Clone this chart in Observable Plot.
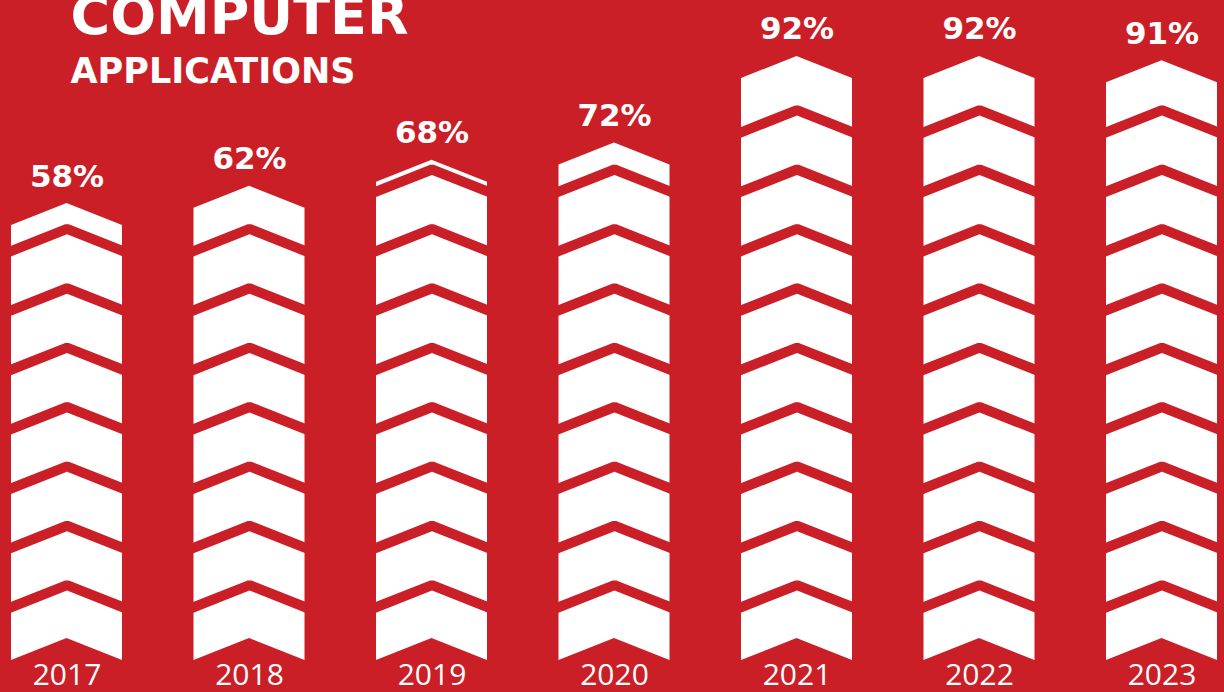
<!DOCTYPE html>
<html><head><meta charset="utf-8">
<script src="https://cdn.jsdelivr.net/npm/d3@7"></script>
<script src="https://cdn.jsdelivr.net/npm/@observablehq/plot@0.6"></script>
<style>
html,body{margin:0;padding:0;background:#cb1f27;width:1224px;height:692px;overflow:hidden}
#chart{position:relative;width:1224px;height:692px}
</style></head><body><div id="chart"></div>
<script>
// ---- data ----
const titleLines = ["COMPUTER", "APPLICATIONS"];
const years = ["2017", "2018", "2019", "2020", "2021", "2022", "2023"];
const shares = [58, 62, 68, 72, 92, 92, 91];

// ---- style / layout ----
const RED = "#cb1f27", WHITE = "#ffffff";
const BOLD_FONT = "'DejaVu Sans', sans-serif";
const xRange = [66.5, 1161.5];
const yDomain = [0, 100], yRange = [453.8, 21.4];
const yScale = d3.scaleLinear().domain(yDomain).range(yRange);
const py = px => yScale.invert(px);
const pxPerIndex = (xRange[1] - xRange[0]) / (years.length - 1);
const HALF_PX = 55.5, EXT_PX = 8;
const half = HALF_PX / pxPerIndex, ext = EXT_PX / pxPerIndex;
const BASE_PX = 660, NOTCH_PX = 22, RISE_PX = 22, PERIOD_PX = 59.37, BAND_PX = 10.8, N_CHEV = 10;
const bottomApexPx = BASE_PX - 70;
const bandWidth = BAND_PX * HALF_PX / Math.hypot(HALF_PX, RISE_PX);

// white chevron columns (pointed top at the value, notched bottom)
const columns = years.flatMap((year, i) => {
  const top = yScale(shares[i]);
  return [
    {year, x: i - half, y1: py(BASE_PX), y2: py(top + RISE_PX)},
    {year, x: i, y1: py(BASE_PX - NOTCH_PX), y2: shares[i]},
    {year, x: i + half, y1: py(BASE_PX), y2: py(top + RISE_PX)}
  ];
});

// red chevron separators
const separators = [];
years.forEach((year, i) => {
  const top = yScale(shares[i]);
  for (let k = 0; k < N_CHEV - 1; k++) {
    const c = bottomApexPx - PERIOD_PX * k - BAND_PX / 2;
    if (c + RISE_PX + BAND_PX < top) continue;
    const drop = RISE_PX * (HALF_PX + EXT_PX) / HALF_PX;
    const id = `${year}-${k}`;
    separators.push(
      {id, x: i - half - ext, y: py(c + drop)},
      {id, x: i, y: py(c)},
      {id, x: i + half + ext, y: py(c + drop)}
    );
  }
});

const chart = Plot.plot({
  width: 1224, height: 692, margin: 0,
  style: {background: RED, fontFamily: "'Open Sans', sans-serif"},
  x: {type: "linear", domain: [0, years.length - 1], range: xRange, axis: null},
  y: {domain: yDomain, range: yRange, axis: null},
  marks: [
    Plot.areaY(columns, {x: "x", y1: "y1", y2: "y2", z: "year", fill: WHITE}),
    Plot.line(separators, {x: "x", y: "y", z: "id", stroke: RED, strokeWidth: bandWidth, strokeLinejoin: "miter", strokeLinecap: "butt"}),
    Plot.text(shares, {x: (d, i) => i, y: d => d, text: d => `${d}%`, lineAnchor: "bottom", dy: -17,
      fill: WHITE, fontSize: 31, fontWeight: 700, fontFamily: BOLD_FONT}),
    Plot.text(years, {x: (d, i) => i, frameAnchor: "bottom", text: d => d, lineAnchor: "bottom", dy: -8,
      fill: WHITE, fontSize: 30, fontWeight: 400}),
    Plot.text([titleLines[0]], {frameAnchor: "top-left", textAnchor: "start", lineAnchor: "bottom", dx: 70, dy: 33,
      text: d => d, fill: WHITE, fontSize: 54, fontWeight: 700, fontFamily: BOLD_FONT}),
    Plot.text([titleLines[1]], {frameAnchor: "top-left", textAnchor: "start", lineAnchor: "bottom", dx: 70, dy: 82,
      text: d => d, fill: WHITE, fontSize: 35, fontWeight: 700, fontFamily: BOLD_FONT})
  ]
});
document.getElementById("chart").appendChild(chart);
</script></body></html>
